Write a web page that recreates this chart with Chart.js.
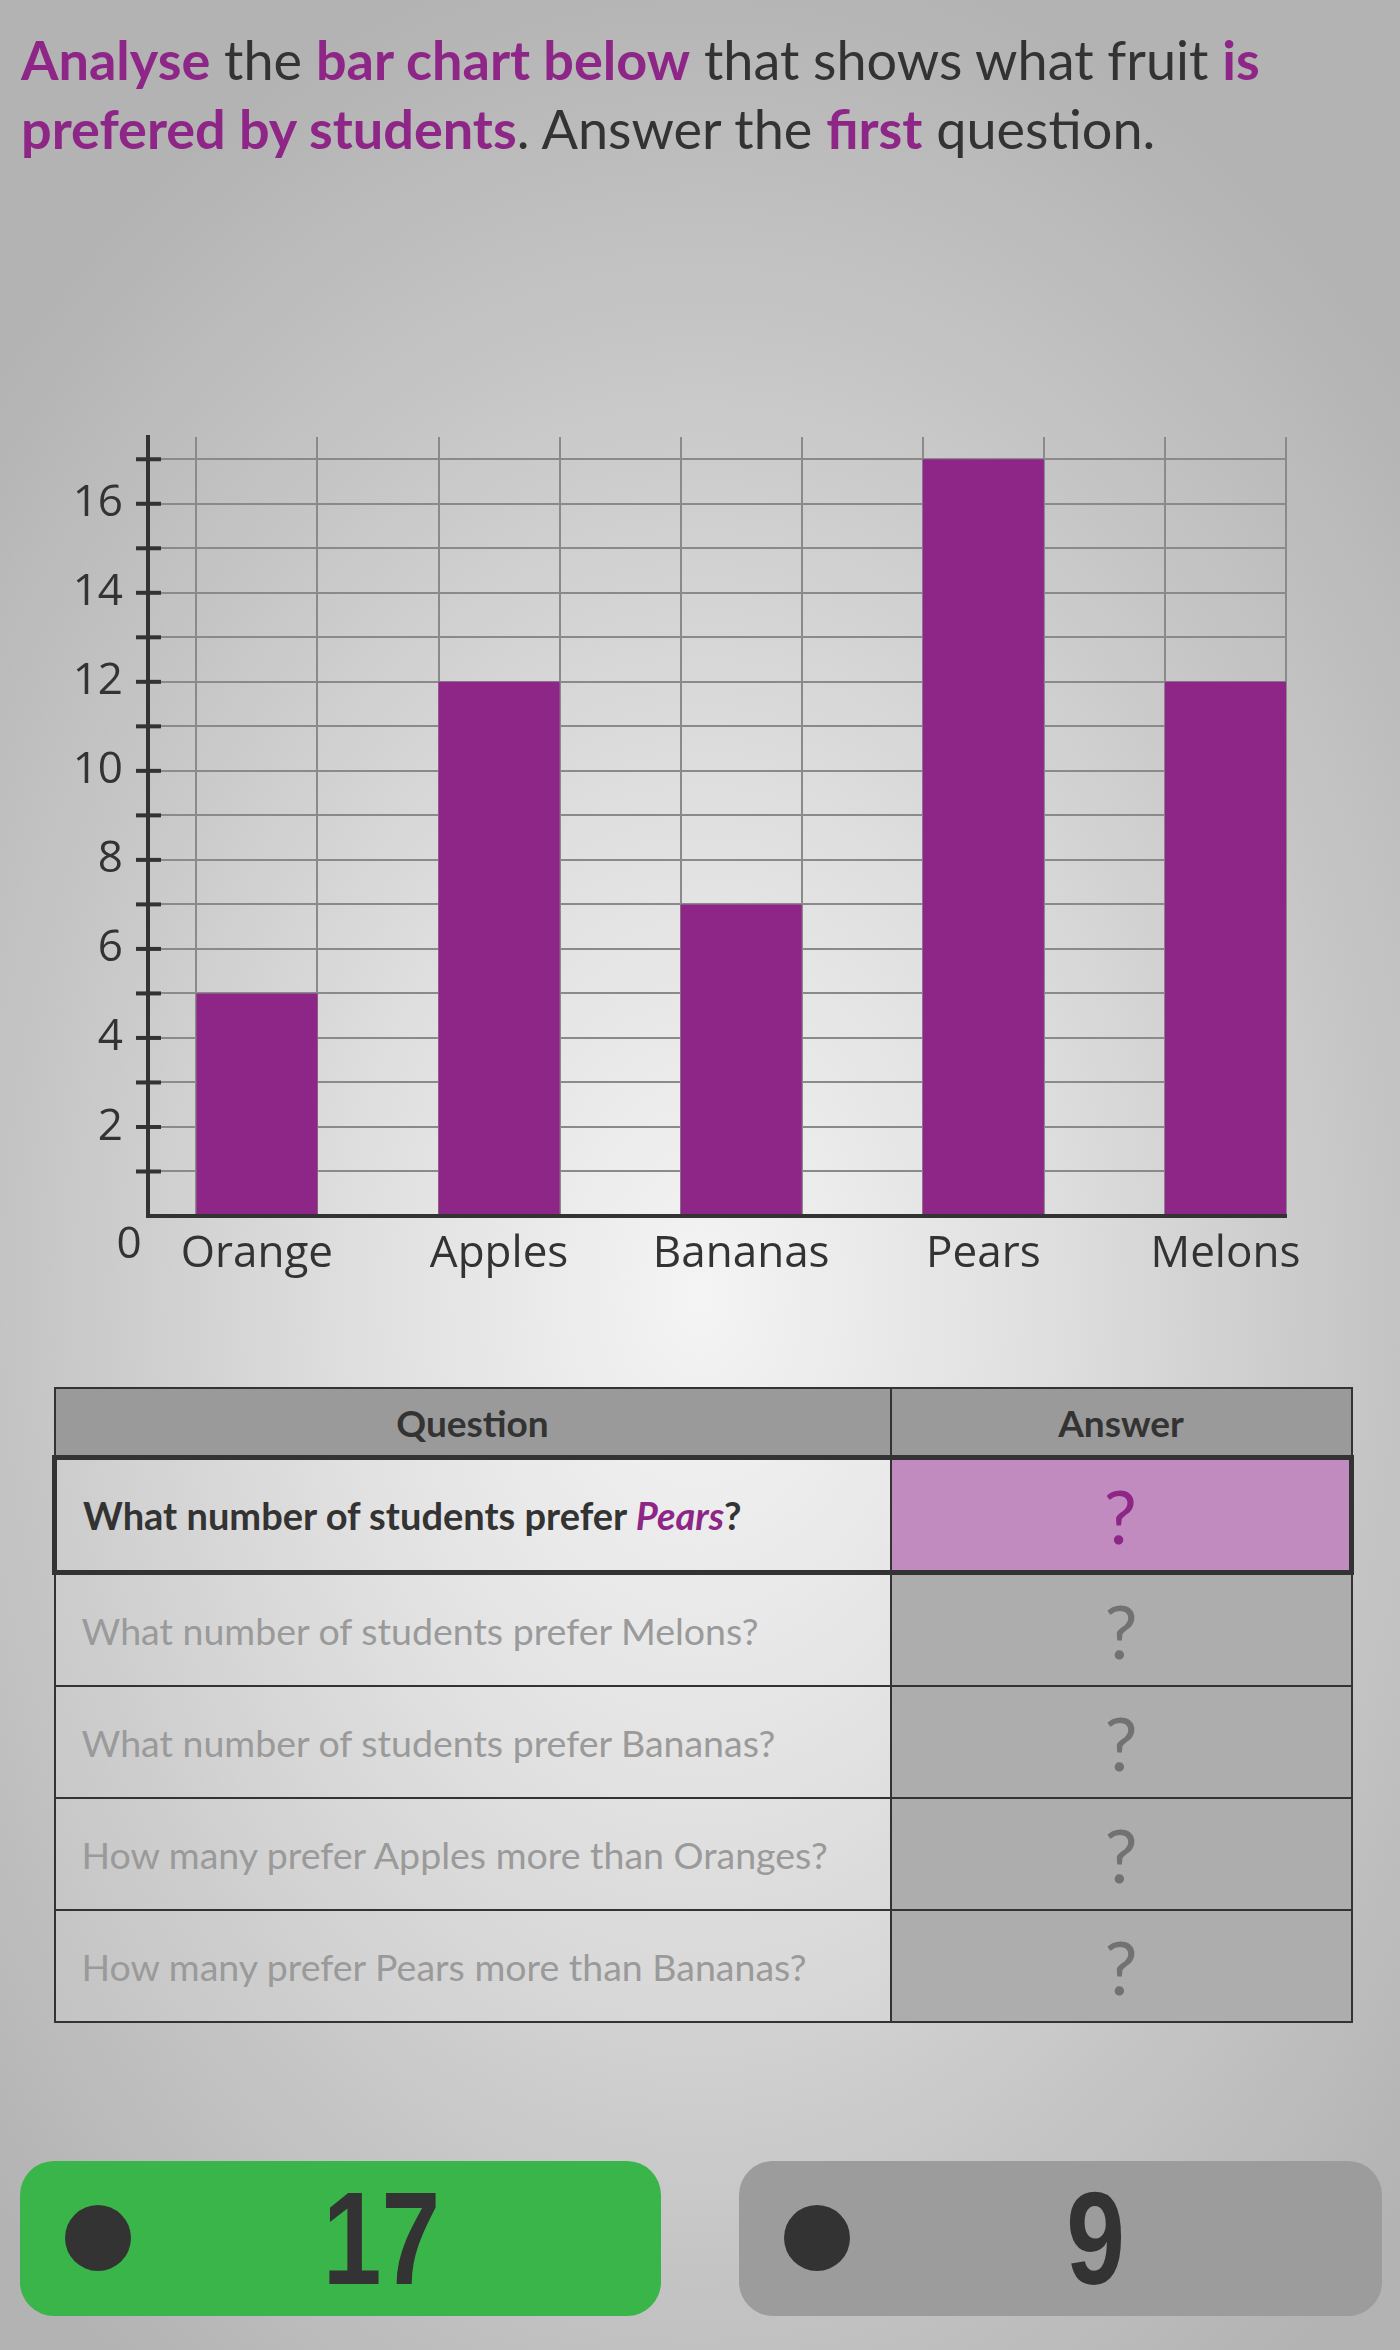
<!DOCTYPE html>
<html>
<head>
<meta charset="utf-8">
<script src="https://cdn.jsdelivr.net/npm/chart.js@4"></script>
<style>
  html, body { margin: 0; padding: 0; }
  body {
    width: 1400px; height: 2350px; position: relative; overflow: hidden;
    background: radial-gradient(ellipse 950px 1350px at 50% 55%, #f4f4f4 0%, #e0e0e0 35%, #c6c6c6 70%, #b3b3b3 100%);
    font-family: Lato, "Open Sans", sans-serif; color: #333;
  }
  .intro {
    position: absolute; left: 21px; top: 25px; font-size: 54px; line-height: 69px;
    white-space: nowrap;
  }
  .hl { color: #8e2687; font-weight: 700; }
  #chartBox { position: absolute; left: 0; top: 400px; width: 1400px; height: 900px; }
  table {
    position: absolute; left: 52px; top: 1387px; width: 1297px;
    border-collapse: collapse; table-layout: fixed;
  }
  td, th { border: 2px solid #333; padding: 0; }
  th { height: 66px; background: #9a9a9a; font-size: 37px; font-weight: 700; }
  td { height: 110px; }
  td.q { padding-left: 26px; font-size: 37.5px; color: #9a9a9a; background: rgba(255,255,255,0.12); }
  td.a { text-align: center; background: #adadad; font-size: 74px; font-weight: 400; color: #727272; }
  tr.cur td { border-top: 5px solid #333; border-bottom: 5px solid #333; }
  tr.cur td.q { border-left: 5px solid #333; color: #333; font-weight: 700; font-size: 38px; }
  tr.cur td.a { border-right: 5px solid #333; background: #c18bbf; color: #8e2687; }
  .btn { position: absolute; top: 2161px; height: 155px; border-radius: 34px; }
  .dot { position: absolute; top: 44px; width: 66px; height: 66px; border-radius: 50%; background: #333; }
  .num {
    position: absolute; top: 12px; font-family: "Liberation Sans", Arial, sans-serif; font-weight: 700;
    font-size: 132px; line-height: 132px; transform: scaleX(0.8); color: #333;
  }
</style>
</head>
<body>
<div class="intro">
  <span class="hl">Analyse</span> the <span class="hl">bar chart below</span> that shows what fruit <span class="hl">is</span><br>
  <span class="hl">prefered by students</span>. Answer the <span class="hl">first</span> question.
</div>

<div id="chartBox"><canvas id="fruitChart"></canvas></div>

<table>
  <colgroup><col style="width:836px"><col style="width:461px"></colgroup>
  <tr><th>Question</th><th>Answer</th></tr>
  <tr class="cur"><td class="q">What number of students prefer <i class="hl">Pears</i>?</td><td class="a">?</td></tr>
  <tr><td class="q">What number of students prefer Melons?</td><td class="a">?</td></tr>
  <tr><td class="q">What number of students prefer Bananas?</td><td class="a">?</td></tr>
  <tr><td class="q">How many prefer Apples more than Oranges?</td><td class="a">?</td></tr>
  <tr><td class="q">How many prefer Pears more than Bananas?</td><td class="a">?</td></tr>
</table>

<div class="btn" style="left:20px; width:641px; background:#3ab54a;">
  <div class="dot" style="left:45px;"></div>
  <div class="num" style="left:288px;">17</div>
</div>
<div class="btn" style="left:739px; width:643px; background:#9c9c9c;">
  <div class="dot" style="left:45px;"></div>
  <div class="num" style="left:320px;">9</div>
</div>

<script>
const categories = ['Orange', 'Apples', 'Bananas', 'Pears', 'Melons'];
const students = [5, 12, 7, 17, 12];
const yTickValues = [0, 1, 2, 3, 4, 5, 6, 7, 8, 9, 10, 11, 12, 13, 14, 15, 16, 17];
const yLabelValues = [2, 4, 6, 8, 10, 12, 14, 16];

const ink = '#333333';
const gridGrey = '#8a8a8a';
const purple = '#8e2687';
const labelFont = { family: 'Open Sans', size: 44 };

// tick marks crossing the y axis, and the lone "0" under the corner
const axisMarks = {
    id: 'axisMarks',
    afterDraw(chart) {
        const { ctx, chartArea, scales: { y } } = chart;
        ctx.save();
        ctx.strokeStyle = ink;
        ctx.lineWidth = 4;
        y.ticks.forEach(t => {
            if (t.value === 0) return;
            const py = y.getPixelForValue(t.value);
            ctx.beginPath();
            ctx.moveTo(chartArea.left - 12, py);
            ctx.lineTo(chartArea.left + 13, py);
            ctx.stroke();
        });
        ctx.fillStyle = ink;
        ctx.font = '44px "Open Sans"';
        ctx.textAlign = 'center';
        ctx.textBaseline = 'middle';
        ctx.fillText('0', chartArea.left - 19, y.getPixelForValue(0) + 29);
        ctx.restore();
    }
};

new Chart(document.getElementById('fruitChart'), {
    type: 'bar',
    data: {
        datasets: [{
            label: 'Students',
            data: students.map((v, i) => ({ x: i, y: v })),
            backgroundColor: purple,
            borderWidth: 0,
            barPercentage: 0.5,
            categoryPercentage: 1
        }]
    },
    options: {
        responsive: true,
        maintainAspectRatio: false,
        animation: false,
        layout: { padding: { top: 37, right: 114, left: 0, bottom: 0 } },
        plugins: { legend: { display: false }, tooltip: { enabled: false } },
        scales: {
            x: {
                type: 'linear',
                offset: false,
                min: -0.45,
                max: 4.25,
                afterBuildTicks: scale => { scale.ticks = categories.map((c, i) => ({ value: i })); },
                afterFit: scale => {
                    scale.height = 84;
                    scale.paddingLeft = 0;
                    scale.paddingRight = 0;
                },
                grid: { display: false, drawTicks: false, offset: false },
                border: { display: true, color: ink, width: 4, z: 1 },
                ticks: {
                    autoSkip: false,
                    maxRotation: 0,
                    padding: 12,
                    color: ink,
                    font: labelFont,
                    callback: v => categories[v]
                }
            },
            x2: {
                type: 'linear',
                position: 'bottom',
                offset: false,
                min: -0.45,
                max: 4.25,
                afterBuildTicks: scale => {
                    scale.ticks = categories.flatMap((c, i) => [{ value: i - 0.25 }, { value: i + 0.25 }]);
                },
                afterFit: scale => { scale.height = 0; },
                grid: { color: gridGrey, lineWidth: 2, drawTicks: false, offset: false },
                border: { display: false },
                ticks: { display: false }
            },
            y: {
                min: 0,
                max: 17.5,
                afterBuildTicks: scale => { scale.ticks = yTickValues.map(v => ({ value: v })); },
                afterFit: scale => {
                    scale.width = 148;
                    scale.paddingTop = 0;
                    scale.paddingBottom = 0;
                },
                grid: { color: gridGrey, lineWidth: 2, drawTicks: false },
                border: { display: true, color: ink, width: 4, z: 1 },
                ticks: {
                    autoSkip: false,
                    padding: 25,
                    color: ink,
                    font: labelFont,
                    callback: v => yLabelValues.includes(v) ? v : ''
                }
            }
        }
    },
    plugins: [axisMarks]
});
</script>
</body>
</html>
